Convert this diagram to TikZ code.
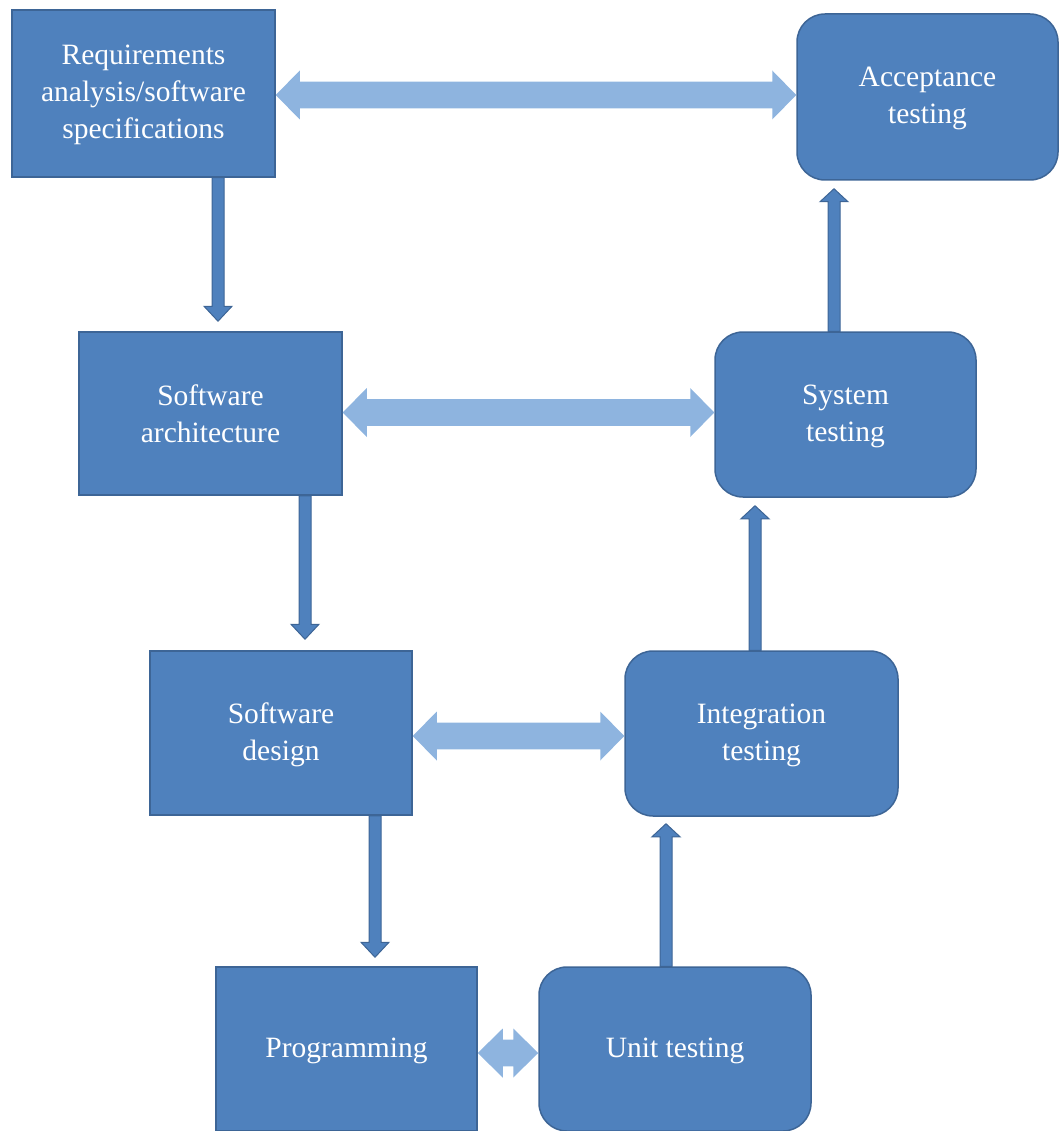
\documentclass[tikz,border=0pt]{standalone}
\usepackage{fontspec}
\setmainfont{Liberation Serif}
\usetikzlibrary{calc}

\definecolor{boxfill}{HTML}{4F81BD}
\definecolor{boxline}{HTML}{3D6596}
\definecolor{linkfill}{HTML}{8EB4DF}

% Block arrow with one head: style, tail, tip, shaft half-width, head half-width, head length
\newcommand\blockarrow[6]{%
  \path ($(#3)!#6!(#2)$) coordinate (bh);
  \filldraw[#1] ($(#2)!#4!90:(#3)$) -- ($(bh)!#4!90:(#3)$) -- ($(bh)!#5!90:(#3)$) -- (#3)
    -- ($(bh)!#5!-90:(#3)$) -- ($(bh)!#4!-90:(#3)$) -- ($(#2)!#4!-90:(#3)$) -- cycle;
}
% Block arrow with a head at both ends
\newcommand\twowayarrow[6]{%
  \path ($(#2)!#6!(#3)$) coordinate (ha) ($(#3)!#6!(#2)$) coordinate (hb);
  \fill[#1] (#2) -- ($(ha)!#5!90:(#3)$) -- ($(ha)!#4!90:(#3)$) -- ($(hb)!#4!90:(#3)$)
    -- ($(hb)!#5!90:(#3)$) -- (#3) -- ($(hb)!#5!-90:(#3)$) -- ($(hb)!#4!-90:(#3)$)
    -- ($(ha)!#4!-90:(#3)$) -- ($(ha)!#5!-90:(#3)$) -- cycle;
}

\tikzset{
  phase/.style={draw=boxline, fill=boxfill, line width=1.5pt, text=white,
    font=\fontsize{29.5}{37}\selectfont, align=center, inner sep=0pt, text depth=3pt},
  devbox/.style={phase, rounded corners=0pt},
  testbox/.style={phase, rounded corners=28pt},
  flow/.style={fill=boxfill, draw=boxline, line width=1pt, line join=miter},
  link/.style={fill=linkfill},
}

\begin{document}
\begin{tikzpicture}[x=1pt, y=-1pt]
  \useasboundingbox (0,0) rectangle (1061,1131);
  \clip (0,0) rectangle (1061,1131);

  % development phases
  \node[devbox, minimum width=263pt, minimum height=167pt] (req) at (143.5,93.5)
    {Requirements\\analysis/software\\specifications};
  \node[devbox, minimum width=263pt, minimum height=163pt, text depth=0pt] (arch) at (210.5,413.5)
    {Software\\architecture};
  \node[devbox, minimum width=262pt, minimum height=164pt] (des) at (281,733)
    {Software\\design};
  \node[devbox, minimum width=261pt, minimum height=164pt] (prog) at (346.5,1049)
    {Programming};

  % testing phases
  \node[testbox, minimum width=261pt, minimum height=166pt] (acc) at (927.5,97)
    {Acceptance\\testing};
  \node[testbox, minimum width=261pt, minimum height=165pt] (sys) at (845.5,414.5)
    {System\\testing};
  \node[testbox, minimum width=273pt, minimum height=165pt] (int) at (761.5,733.5)
    {Integration\\testing};
  \node[testbox, minimum width=272pt, minimum height=164pt] (unit) at (675,1049)
    {Unit testing};

  % flow down the development side
  \coordinate (t1) at ($(req.south)+(74.5,0)$);
  \coordinate (h1) at ($(t1 |- arch.north)+(0,-10)$);
  \coordinate (t2) at ($(arch.south)+(94.5,0)$);
  \coordinate (h2) at ($(t2 |- des.north)+(0,-11)$);
  \coordinate (t3) at ($(des.south)+(94,0)$);
  \coordinate (h3) at ($(t3 |- prog.north)+(0,-9)$);
  \blockarrow{flow}{t1}{h1}{6pt}{14pt}{15pt}
  \blockarrow{flow}{t2}{h2}{6pt}{14pt}{15pt}
  \blockarrow{flow}{t3}{h3}{6pt}{14pt}{15pt}

  % flow up the testing side
  \coordinate (t4) at ($(unit.north)+(-9,0)$);
  \coordinate (h4) at ($(t4 |- int.south)+(0,7)$);
  \coordinate (t5) at ($(int.north)+(-6.5,0)$);
  \coordinate (h5) at ($(t5 |- sys.south)+(0,8)$);
  \coordinate (t6) at ($(sys.north)+(-11.5,0)$);
  \coordinate (h6) at ($(t6 |- acc.south)+(0,8)$);
  \blockarrow{flow}{t4}{h4}{6pt}{14pt}{13pt}
  \blockarrow{flow}{t5}{h5}{6pt}{14pt}{13pt}
  \blockarrow{flow}{t6}{h6}{6pt}{14pt}{13pt}

  % links between matching phases
  \coordinate (la) at ($(req.east)+(0,1.5)$);
  \coordinate (lb) at (la -| acc.west);
  \coordinate (lc) at ($(arch.east)+(0,-1)$);
  \coordinate (ld) at (lc -| sys.west);
  \coordinate (le) at ($(des.east)+(0,3)$);
  \coordinate (lf) at (le -| int.west);
  \coordinate (lg) at ($(prog.east)+(0,4)$);
  \coordinate (lh) at (lg -| unit.west);
  \twowayarrow{link}{la}{lb}{13.3pt}{24.5pt}{24pt}
  \twowayarrow{link}{lc}{ld}{13.3pt}{24.5pt}{24pt}
  \twowayarrow{link}{le}{lf}{13.3pt}{24.5pt}{24pt}
  \twowayarrow{link}{lg}{lh}{13.3pt}{24.5pt}{25pt}
\end{tikzpicture}
\end{document}
